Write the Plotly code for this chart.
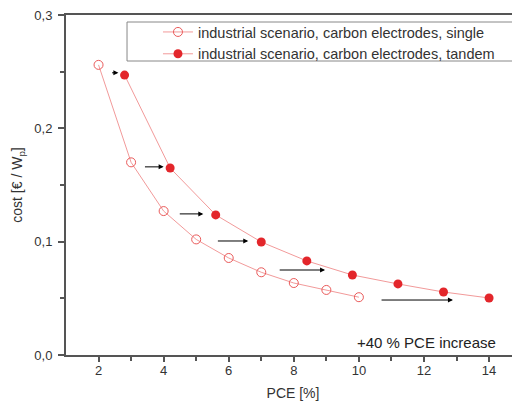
import plotly.graph_objects as go

# single-junction cells (open circles)
pce_single = [2, 3, 4, 5, 6, 7, 8, 9, 10]
cost_single = [0.256, 0.170, 0.127, 0.102, 0.0856, 0.073, 0.0635, 0.0574, 0.051]

# tandem cells, +40 % PCE (filled circles)
pce_tandem = [2.8, 4.2, 5.6, 7.0, 8.4, 9.8, 11.2, 12.6, 14.0]
cost_tandem = [0.247, 0.165, 0.1236, 0.0997, 0.083, 0.0706, 0.0627, 0.0556, 0.0503]

# black arrows showing the PCE shift
arrow_x0 = [2.37, 3.38, 4.45, 5.62, 7.52, 10.65]
arrow_x1 = [2.61, 4.00, 5.22, 6.60, 8.96, 12.89]
arrow_y = [0.249, 0.166, 0.1245, 0.1006, 0.075, 0.0485]

x_ticks = [2, 4, 6, 8, 10, 12, 14]
y_ticks = [0.0, 0.1, 0.2, 0.3]
y_labels = ["0,0", "0,1", "0,2", "0,3"]

LINE = "#f29a9a"
RED = "#e3262b"
OPEN = "#ea5a5a"
AXIS = "#555555"
FONT = "Liberation Sans, Arial, sans-serif"

fig = go.Figure()
fig.add_trace(go.Scatter(
    x=pce_single, y=cost_single, mode="lines+markers",
    name="industrial scenario, carbon electrodes, single",
    line=dict(color=LINE, width=1),
    marker=dict(symbol="circle-open", size=9, color=OPEN, line=dict(width=1)),
))
fig.add_trace(go.Scatter(
    x=pce_tandem, y=cost_tandem, mode="lines+markers",
    name="industrial scenario, carbon electrodes, tandem",
    line=dict(color=LINE, width=1),
    marker=dict(symbol="circle", size=9, color=RED),
))

for x0, x1, y in zip(arrow_x0, arrow_x1, arrow_y):
    fig.add_annotation(
        x=x1, y=y, ax=x0, ay=y, xref="x", yref="y", axref="x", ayref="y",
        text="", showarrow=True, arrowhead=2, arrowsize=1, arrowwidth=1,
        arrowcolor="black",
    )

fig.add_annotation(
    x=1, y=0, xref="paper", yref="paper", xanchor="right", yanchor="bottom",
    xshift=-22, yshift=2, text="+40 % PCE increase", showarrow=False,
    font=dict(size=15, color="#222222"),
)

# legend frame (wider than the legend itself, as in the original)
fig.add_shape(
    type="rect", xref="paper", yref="paper",
    x0=0.1344, x1=0.9934, y0=0.8647, y1=0.9794,
    line=dict(color="#888888", width=1), fillcolor="white", layer="above",
)

fig.update_layout(
    width=512, height=396,
    margin=dict(l=58, r=0, t=7, b=49),
    paper_bgcolor="white", plot_bgcolor="white",
    font=dict(family=FONT, size=13, color="#333333"),
    showlegend=True,
    legend=dict(
        x=0.2026, y=0.997, xanchor="left", yanchor="top",
        bgcolor="rgba(0,0,0,0)", borderwidth=0,
        font=dict(size=14.5, color="#333333"), tracegroupgap=0,
        itemwidth=30,
    ),
    xaxis=dict(
        range=[1, 14.95], tickvals=x_ticks, ticks="outside", ticklen=5,
        tickwidth=1.5, tickcolor=AXIS, showline=True, linecolor=AXIS,
        linewidth=2, mirror=True, showgrid=False, zeroline=False,
        ticklabelstandoff=-3,
        minor=dict(tickvals=[3, 5, 7, 9, 11, 13], ticks="outside",
                   ticklen=4, tickcolor=AXIS),
        title=dict(text="PCE [%]", font=dict(size=14), standoff=12),
    ),
    yaxis=dict(
        range=[0, 0.3], tickvals=y_ticks, ticktext=y_labels,
        ticks="outside", ticklen=6, tickwidth=1.5, tickcolor=AXIS,
        showline=True, linecolor=AXIS, linewidth=2, mirror=False,
        showgrid=False, zeroline=False, ticklabelstandoff=3,
        ticklabeloverflow="allow",
        minor=dict(tickvals=[0.05, 0.15, 0.25], ticks="outside",
                   ticklen=4, tickcolor=AXIS),
        title=dict(text="cost [€ / W<sub>p</sub>]", font=dict(size=14),
                   standoff=8),
    ),
)

fig.write_html("out.html")
